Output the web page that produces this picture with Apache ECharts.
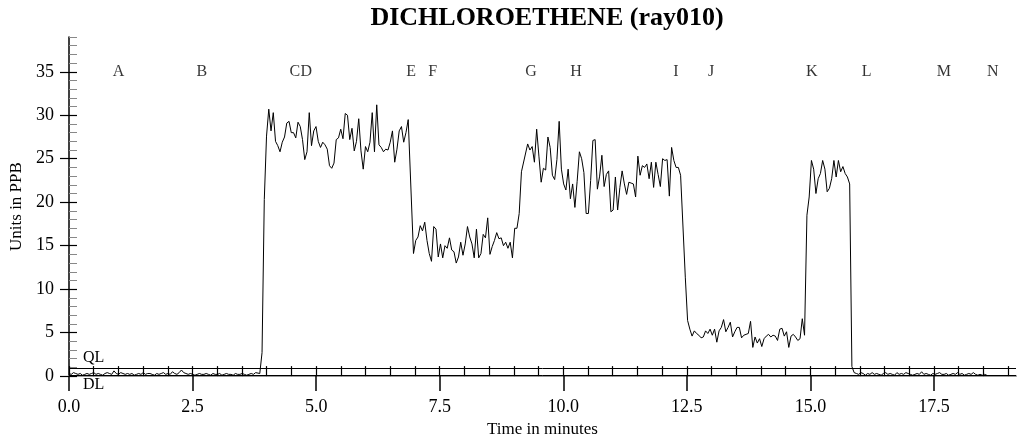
<!DOCTYPE html>
<html>
<head>
<meta charset="utf-8">
<script src="https://cdn.jsdelivr.net/npm/echarts@6/dist/echarts.min.js"></script>
<style>
  html, body { margin: 0; padding: 0; background: #fff; }
  #main { width: 1018px; height: 443px; }
</style>
</head>
<body>
<div id="main"></div>
<script>
// sampling step of the trace, in minutes
var STEP = 0.0455;

// baseline before the first run
var leadStart = 0;
var lead = [0.3, 0.2, 0.4, 0.3, 0.2, 0.3, 0.1, 0.2, 0.3, 0.2,
            0.3, 0.4, 0.2, 0.3, 0.2, 0.1, 0.3, 0.4, 0.3, 0.2,
            0.6, 0.3, 0.2, 0.4, 0.3, 0.2, 0.3, 0.2, 0.3, 0.1,
            0.2, 0.3, 0.2, 0.4, 0.2, 0.3, 0.3, 0.2, 0.1, 0.3,
            0.2, 0.3, 0.4, 0.2, 0.3, 0.2, 0.5, 0.3, 0.2, 0.4,
            0.7, 0.4, 0.3, 0.2, 0.3, 0.2, 0.1, 0.2, 0.3, 0.2,
            0.2, 0.3, 0.2, 0.1, 0.3, 0.2, 0.2, 0.3, 0.1, 0.2,
            0.3, 0.2, 0.2, 0.1, 0.3, 0.2, 0.2, 0.3, 0.2, 0.1,
            0.2, 0.3, 0.2, 0.4];

// first high run (C/D)
var runAStart = 3.86;
var runA = [0.3, 2.7, 20.3, 27.6, 30.7, 28.2, 30.3, 27.0, 26.5, 25.8,
            26.9, 27.5, 29.1, 29.3, 28.0, 28.0, 27.4, 29.2, 28.7, 27.2,
            24.9, 25.8, 30.3, 26.5, 28.2, 28.7, 27.0, 26.3, 26.9, 26.6,
            26.1, 24.2, 23.9, 24.5, 27.2, 27.4, 28.4, 27.3, 30.2, 30.0,
            27.2, 28.5, 25.9, 27.0, 29.6, 25.9, 23.8, 26.4, 25.8, 26.9,
            30.3, 25.8, 31.2, 26.6, 26.3, 25.8, 26.1, 26.0, 26.9, 28.2,
            24.6, 26.1, 28.2, 28.7, 26.9, 28.0, 29.5];

// E-F run
var runBStart = 6.97;
var runB = [14.1, 15.6, 16.0, 17.3, 16.7, 17.7, 15.6, 14.1, 13.2, 17.2,
            16.9, 13.7, 15.2, 13.6, 15.0, 14.7, 15.9, 14.5, 14.3, 13.0,
            13.7, 15.4, 13.9, 15.2, 17.2, 16.0, 15.2, 13.6, 16.9, 13.6,
            14.1, 16.3, 15.9, 18.2, 14.0, 14.9, 15.6, 16.5, 15.8, 15.9,
            15.0, 15.4, 14.7, 15.4, 13.6, 17.0, 17.0, 18.7, 23.5];

// G-I run
var runCStart = 9.28;
var runC = [26.7, 26.0, 26.4, 24.6, 28.4, 25.3, 22.3, 23.9, 23.7, 27.5,
            26.3, 23.1, 22.6, 24.9, 29.3, 23.8, 22.1, 21.4, 23.8, 20.4,
            22.1, 19.4, 22.4, 25.8, 25.0, 23.4, 18.7, 18.7, 22.5, 27.1,
            27.2, 21.5, 23.0, 25.4, 21.8, 23.2, 23.6, 18.9, 19.1, 22.9,
            19.1, 21.7, 23.6, 22.1, 20.9, 22.3, 22.2, 22.1, 20.6, 25.3,
            23.1, 24.2, 24.0, 24.4, 22.7, 24.6, 21.7, 24.6, 23.2, 21.8,
            25.0, 24.8, 24.9, 20.7, 26.3, 24.8, 24.0, 24.0, 23.1];

// J run
var runDStart = 12.47;
var runD = [11.3, 6.4, 5.4, 4.6, 5.2, 4.9, 4.7, 4.4, 4.5, 5.2,
            4.9, 5.4, 4.7, 5.4, 3.9, 5.2, 5.6, 6.5, 5.1, 5.6,
            6.2, 4.5, 5.1, 5.6, 5.6, 4.4, 4.7, 4.8, 4.9, 6.3,
            3.3, 4.5, 3.8, 4.3, 3.4, 4.3, 4.6, 4.8, 4.5, 4.7,
            4.6, 4.1, 5.4, 5.5, 4.6, 5.1, 3.3, 4.6, 4.8, 4.5,
            4.1, 4.3, 6.6, 4.7];

// K run
var runEStart = 14.93;
var runE = [18.5, 20.6, 24.8, 23.8, 21.0, 22.7, 23.3, 24.8, 23.8, 21.2,
            21.6, 22.7, 24.8, 22.9, 24.8, 23.5, 24.1, 23.3, 22.9, 22.1];

// baseline after the last run
var tailStart = 15.84;
var tail = [1.1, 0.4, 0.3, 0.2, 0.4, 0.3, 0.1, 0.3, 0.2, 0.4,
            0.2, 0.3, 0.2, 0.1, 0.3, 0.4, 0.2, 0.3, 0.2, 0.1,
            0.4, 0.2, 0.3, 0.2, 0.4, 0.3, 0.2, 0.1, 0.2, 0.3,
            0.2, 0.5, 0.2, 0.3, 0.2, 0.1, 0.3, 0.2, 0.3, 0.4,
            0.2, 0.2, 0.3, 0.1, 0.2, 0.3, 0.2, 0.4, 0.2, 0.3,
            0.1, 0.2, 0.3, 0.2, 0.4, 0.2, 0.1, 0.2, 0.1, 0.2, 0.1];

// event letters along the top
var eventNames = ['A', 'B', 'C', 'D', 'E', 'F', 'G', 'H', 'I', 'J', 'K', 'L', 'M', 'N'];
var eventTimes = [1.00, 2.69, 4.57, 4.80, 6.92, 7.36, 9.35, 10.26, 12.28, 12.99, 15.03, 16.14, 17.70, 18.69];
var eventLevel = 35;

// limits
var QL = 0.95;
var DL = 0.1;

// axis ticks
var xMajor = [0, 2.5, 5, 7.5, 10, 12.5, 15, 17.5];
var xMinor = [];
for (var m = 0; m <= 19; m += 0.5) xMinor.push(m);
var yMajor = [0, 5, 10, 15, 20, 25, 30, 35];
var yMinor = [];
for (var k = 0; k <= 39; k++) yMinor.push(k);

var X_MAX = 19.16;
var Y_MAX = 39;

var segs = [[leadStart, lead], [runAStart, runA], [runBStart, runB],
            [runCStart, runC], [runDStart, runD], [runEStart, runE], [tailStart, tail]];
var trace = [];
segs.forEach(function (s) {
    s[1].forEach(function (v, i) {
        trace.push([+(s[0] + i * STEP).toFixed(4), v]);
    });
});

var events = eventNames.map(function (n, i) {
    return { name: n, value: [eventTimes[i], eventLevel] };
});

var serif = 'Liberation Serif';
var chart = echarts.init(document.getElementById('main'));

var option = {
    animation: false,
    title: {
        text: 'DICHLOROETHENE (ray010)',
        left: 542,
        textAlign: 'center',
        top: 0,
        textStyle: { fontFamily: serif, fontWeight: 'bold', fontSize: 26, color: '#000' }
    },
    grid: { left: 69, right: 2, top: 37, bottom: 64 },
    xAxis: [{
        type: 'value', min: 0, max: X_MAX,
        name: 'Time in minutes', nameLocation: 'middle', nameGap: 36,
        nameTextStyle: { fontFamily: serif, fontSize: 17, color: '#000' },
        axisLine: { show: true, lineStyle: { color: '#999', width: 2 } },
        axisTick: { show: true, customValues: xMajor, length: 15, lineStyle: { color: '#000', width: 1.5 } },
        axisLabel: {
            customValues: xMajor, margin: 22,
            fontFamily: serif, fontSize: 18, color: '#000',
            formatter: function (v) { return v.toFixed(1); }
        },
        splitLine: { show: false }
    }, {
        type: 'value', min: 0, max: X_MAX, position: 'bottom',
        axisLine: { show: false },
        axisTick: { show: true, inside: true, customValues: xMinor, length: 10, lineStyle: { color: '#000', width: 1.2 } },
        axisLabel: { show: false },
        splitLine: { show: false }
    }],
    yAxis: [{
        type: 'value', min: 0, max: Y_MAX,
        name: 'Units in PPB', nameLocation: 'middle', nameGap: 43,
        nameTextStyle: { fontFamily: serif, fontSize: 17, color: '#000' },
        axisLine: { show: true, lineStyle: { color: '#000', width: 1.5 } },
        axisTick: { show: true, customValues: yMajor, length: 9, lineStyle: { color: '#000', width: 1.2 } },
        axisLabel: { customValues: yMajor, margin: 15, fontFamily: serif, fontSize: 18, color: '#000' },
        splitLine: { show: false }
    }, {
        type: 'value', min: 0, max: Y_MAX, position: 'left',
        axisLine: { show: false },
        axisTick: { show: true, inside: true, customValues: yMinor, length: 8, lineStyle: { color: '#888', width: 1 } },
        axisLabel: { show: false },
        splitLine: { show: false }
    }, {
        type: 'value', min: 0, max: Y_MAX, position: 'left',
        axisLine: { show: false },
        axisTick: { show: true, inside: true, customValues: yMajor, length: 8, lineStyle: { color: '#000', width: 1.2 } },
        axisLabel: { show: false },
        splitLine: { show: false }
    }],
    series: [{
        type: 'line',
        data: trace,
        showSymbol: false,
        symbol: 'none',
        lineStyle: { color: '#000', width: 1 },
        markLine: {
            silent: true,
            symbol: 'none',
            lineStyle: { color: '#000', width: 1, type: 'solid' },
            data: [
                { yAxis: QL, label: { show: true, formatter: 'QL', position: 'insideStartTop', distance: [14, 2],
                    fontFamily: serif, fontSize: 16, color: '#000' } },
                { yAxis: DL, label: { show: true, formatter: 'DL', position: 'insideStartBottom', distance: [14, 2],
                    fontFamily: serif, fontSize: 16, color: '#000' } }
            ]
        }
    }, {
        type: 'scatter',
        data: events,
        symbolSize: 1,
        itemStyle: { color: 'rgba(0,0,0,0)' },
        label: {
            show: true, position: 'inside', formatter: '{b}',
            fontFamily: serif, fontSize: 16, color: '#000'
        }
    }]
};

chart.setOption(option);
</script>
</body>
</html>
